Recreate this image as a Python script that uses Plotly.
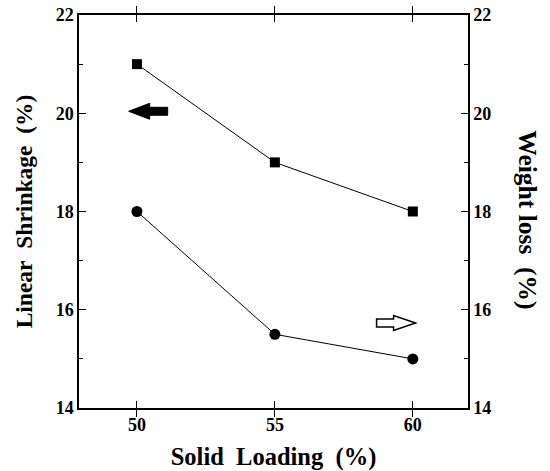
import plotly.graph_objects as go

solid_loading = [50, 55, 60]
linear_shrinkage = [21, 19, 18]
weight_loss = [18, 15.5, 15]
x_ticks = [50, 55, 60]
y_ticks = [14, 16, 18, 20, 22]

# arrow anchors (data coords)
left_arrow_tip = (49.7, 20.04)
right_arrow_tip = (60.1, 15.73)

FONT = "Liberation Serif"

fig = go.Figure()
fig.add_trace(go.Scatter(
    x=solid_loading, y=linear_shrinkage, mode="lines+markers",
    line=dict(color="black", width=1),
    marker=dict(symbol="square", size=10, color="black"),
    showlegend=False, cliponaxis=False))
fig.add_trace(go.Scatter(
    x=solid_loading, y=weight_loss, mode="lines+markers", yaxis="y2",
    line=dict(color="black", width=1),
    marker=dict(symbol="circle", size=11, color="black"),
    showlegend=False, cliponaxis=False))

fig.add_shape(type="path", xref="x", yref="y", xsizemode="pixel", ysizemode="pixel",
              xanchor=left_arrow_tip[0], yanchor=left_arrow_tip[1],
              path="M0,0 L21,8 L21,4 L39,4 L39,-4 L21,-4 L21,-8 Z",
              fillcolor="black", line=dict(color="black", width=1))
fig.add_shape(type="path", xref="x", yref="y", xsizemode="pixel", ysizemode="pixel",
              xanchor=right_arrow_tip[0], yanchor=right_arrow_tip[1],
              path="M0,0 L-22,7.5 L-22,4 L-39,4 L-39,-4 L-22,-4 L-22,-7.5 Z",
              fillcolor="white", line=dict(color="black", width=1.5))

tickfont = dict(family=FONT, size=18, color="black")
bold = lambda v: [f"<b>{t}</b>" for t in v]
fig.update_layout(
    width=550, height=471,
    margin=dict(l=79, r=82, t=15, b=63),
    plot_bgcolor="white", paper_bgcolor="white",
    xaxis=dict(range=[47.9, 62.0], tickvals=x_ticks, ticktext=bold(x_ticks),
               ticks="inside", ticklen=7, automargin=False, ticklabeloverflow="allow",
               tickcolor="black", showline=True, linecolor="black", linewidth=1.5,
               mirror="allticks", showgrid=False, zeroline=False, tickfont=tickfont,
               title=dict(text="<b>Solid&nbsp;&nbsp;Loading&nbsp;&nbsp;(%)</b>", standoff=14,
                          font=dict(family=FONT, size=24.5, color="black"))),
    yaxis=dict(range=[14, 22], tickvals=y_ticks, ticktext=bold(y_ticks),
               ticks="inside", ticklen=7, automargin=False, ticklabeloverflow="allow",
               tickcolor="black", showline=True, linecolor="black", linewidth=1.5,
               showgrid=False, zeroline=False, tickfont=tickfont,
               minor=dict(dtick=1, ticks="inside", ticklen=4, tickcolor="black"),
               title=dict(text="<b>Linear&nbsp;&nbsp;Shrinkage&nbsp;&nbsp;(%)</b>", standoff=16,
                          font=dict(family=FONT, size=23.5, color="black"))),
    yaxis2=dict(range=[14, 22], tickvals=y_ticks, ticktext=bold(y_ticks),
                ticks="inside", ticklen=7, automargin=False, ticklabeloverflow="allow",
                tickcolor="black", overlaying="y", side="right",
                showline=True, linecolor="black", linewidth=1.5,
                showgrid=False, zeroline=False, tickfont=tickfont,
                minor=dict(dtick=1, ticks="inside", ticklen=4, tickcolor="black")),
)
fig.add_annotation(text="<b>Weight loss&nbsp;&nbsp;(%)</b>", textangle=90, xref="paper", yref="paper",
                   x=1.0, xanchor="center", yanchor="middle", xshift=60, y=0.48, showarrow=False,
                   font=dict(family=FONT, size=25.5, color="black"))
fig.write_html("out.html", config={"displayModeBar": False},
               post_script="document.body.style.margin='0';")
